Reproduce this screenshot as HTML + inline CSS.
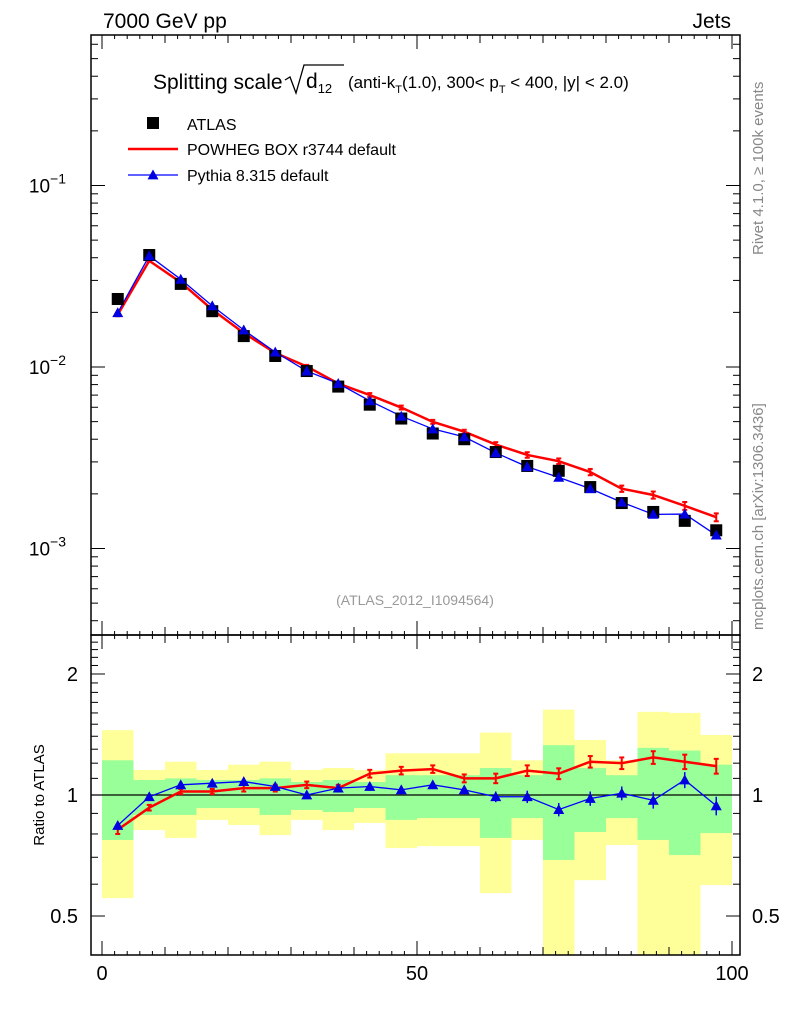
<!DOCTYPE html>
<html><head><meta charset="utf-8"><style>
body{margin:0;background:#fff}
svg{font-family:"Liberation Sans",sans-serif}
</style></head><body>
<svg id="c" width="786" height="1024"></svg>
<script>
const centers=[2.5,7.5,12.5,17.5,22.5,27.5,32.5,37.5,42.5,47.5,52.5,57.5,62.5,67.5,72.5,77.5,82.5,87.5,92.5,97.5];
const atlas=[0.0237,0.0414,0.0287,0.0203,0.0148,0.0115,0.0095,0.0078,0.0062,0.0052,0.0043,0.0040,0.0034,0.00285,0.00268,0.00218,0.00178,0.00159,0.00142,0.00126];
const powhegRatio=[0.82,0.93,1.02,1.02,1.04,1.04,1.06,1.04,1.13,1.15,1.16,1.10,1.10,1.15,1.13,1.21,1.20,1.24,1.21,1.18];
const pythiaRatio=[0.84,0.99,1.06,1.07,1.08,1.05,1.00,1.04,1.05,1.03,1.06,1.03,0.99,0.99,0.92,0.98,1.01,0.97,1.09,0.94];
const yellowHi=[1.45,1.154,1.21,1.154,1.19,1.21,1.154,1.167,1.154,1.27,1.27,1.27,1.43,1.22,1.63,1.37,1.22,1.61,1.6,1.41];
const yellowLo=[0.554,0.818,0.782,0.867,0.842,0.795,0.867,0.818,0.852,0.738,0.746,0.746,0.57,0.773,0.40,0.614,0.751,0.40,0.40,0.597];
const greenHi=[1.22,1.09,1.10,1.09,1.09,1.10,1.077,1.09,1.077,1.12,1.12,1.12,1.167,1.12,1.33,1.167,1.12,1.31,1.29,1.19];
const greenLo=[0.773,0.892,0.892,0.928,0.928,0.892,0.918,0.907,0.928,0.867,0.876,0.876,0.782,0.876,0.689,0.809,0.876,0.773,0.709,0.804];
const ratioErr=[0.02,0.015,0.015,0.015,0.02,0.02,0.02,0.02,0.025,0.025,0.025,0.025,0.03,0.035,0.035,0.04,0.04,0.045,0.05,0.05];

const NS="http://www.w3.org/2000/svg";
const svg=document.getElementById('c');
function el(t,a,p){const e=document.createElementNS(NS,t);for(const k in a)e.setAttribute(k,a[k]);(p||svg).appendChild(e);return e;}
const X=v=>102+v*6.3;
const Ym=v=>367-181.5*Math.log10(v/0.01);
const Yr=v=>795-402*Math.log10(v);
const L=91,R=740,T=35,M=635,B=955;

const bandG=el('g',{});


centers.forEach((c,i)=>{
  const x0=X(c-2.5),x1=X(c+2.5);
  const y1=Math.max(Yr(yellowHi[i]),M),y2=Math.min(Yr(yellowLo[i]),B);
  const r=el('rect',{x:x0,y:y1,width:x1-x0,height:y2-y1,fill:'#ffff99'},bandG);
  
  
  const g1=Yr(greenHi[i]),g2=Math.min(Yr(greenLo[i]),B);
  const r2=el('rect',{x:x0,y:g1,width:x1-x0,height:g2-g1,fill:'#99ff99'},bandG);
  
  
});
el('line',{x1:L,x2:R,y1:Yr(1),y2:Yr(1),stroke:'#000','stroke-width':1.2});

[[T,M],[M,B]].forEach(([a,b],k)=>{
  const f=el('rect',{x:L,y:a,width:R-L,height:b-a,fill:'none',stroke:'#000','stroke-width':1.5});
  
  
});

for(let v=0;v<=100;v+=2){
  const big=v%10==0,maj=v%50==0;
  const len=maj?14:(big?8:4);
  el('line',{x1:X(v),x2:X(v),y1:B,y2:B-len,stroke:'#000'});
  el('line',{x1:X(v),x2:X(v),y1:M,y2:M-len,stroke:'#000'});
  el('line',{x1:X(v),x2:X(v),y1:M,y2:M+len,stroke:'#000'});
  el('line',{x1:X(v),x2:X(v),y1:T,y2:T+len,stroke:'#000'});
  if(maj){const t=el('text',{x:X(v),y:980,'font-size':20,'text-anchor':'middle'});t.textContent=v;
    }
}
for(let e=-4;e<=0;e++)for(let m=1;m<10;m++){
  const v=m*Math.pow(10,e),y=Ym(v);
  if(y<T||y>M)continue;
  const len=m==1?14:7;
  el('line',{x1:L,x2:L+len,y1:y,y2:y,stroke:'#000'});
  el('line',{x1:R,x2:R-len,y1:y,y2:y,stroke:'#000'});
}
[-1,-2,-3].forEach(e=>{
  const t=el('text',{x:66,y:Ym(Math.pow(10,e))+7,'font-size':19,'text-anchor':'end'});
  t.innerHTML='10<tspan dy="-9" font-size="14">\u2212'+(-e)+'</tspan>';
  
});
[0.4,0.5,0.6,0.7,0.8,0.9,1,1.1,1.2,1.3,1.4,1.5,1.6,1.7,1.8,1.9,2,2.1,2.2,2.3,2.4,2.5].forEach(v=>{
  const y=Yr(v);if(y<M||y>B)return;
  const len=(v==0.5||v==1||v==2)?14:7;
  el('line',{x1:L,x2:L+len,y1:y,y2:y,stroke:'#000'});
  el('line',{x1:R,x2:R-len,y1:y,y2:y,stroke:'#000'});
});
[[2,'2'],[1,'1'],[0.5,'0.5']].forEach(([v,s])=>{
  const a=el('text',{x:78,y:Yr(v)+7,'font-size':20,'text-anchor':'end'});a.textContent=s;
  
  const b=el('text',{x:752,y:Yr(v)+7,'font-size':20}); b.textContent=s;
  
});

function poly(pts,color,w,name){const p=el('polyline',{points:pts.map(q=>q.join(',')).join(' '),fill:'none',stroke:color,'stroke-width':w});
  }
function tri(x,y,s,name){const p=el('polygon',{points:`${x},${y-s} ${x-s},${y+s*0.8} ${x+s},${y+s*0.8}`,fill:'#0000e0'});
  }
function ebar(x,a,b,col){
  el('line',{x1:x,x2:x,y1:a,y2:b,stroke:col,'stroke-width':2});
  el('line',{x1:x-2.5,x2:x+2.5,y1:a,y2:a,stroke:col,'stroke-width':2});
  el('line',{x1:x-2.5,x2:x+2.5,y1:b,y2:b,stroke:col,'stroke-width':2});
}
poly(centers.map((c,i)=>[X(c),Ym(atlas[i]*powhegRatio[i])]),'#f00',2.5,'powheg-line');
centers.forEach((c,i)=>{
  const v=atlas[i]*powhegRatio[i];
  ebar(X(c),Ym(v*(1+ratioErr[i])),Ym(v*(1-ratioErr[i])),'#f00');
});
poly(centers.map((c,i)=>[X(c),Ym(atlas[i]*pythiaRatio[i])]),'#00f',1.3,'pythia-line');
centers.forEach((c,i)=>{
  const r=el('rect',{x:X(c)-6,y:Ym(atlas[i])-6,width:12,height:12,fill:'#000'});
  
  tri(X(c),Ym(atlas[i]*pythiaRatio[i]),5.5,'pythia-point');
});
poly(centers.map((c,i)=>[X(c),Yr(powhegRatio[i])]),'#f00',2.5,'powheg-ratio-line');
poly(centers.map((c,i)=>[X(c),Yr(pythiaRatio[i])]),'#00f',1.3,'pythia-ratio-line');
centers.forEach((c,i)=>{
  const x=X(c);
  ebar(x,Yr(powhegRatio[i]+ratioErr[i]),Yr(powhegRatio[i]-ratioErr[i]),'#f00');
  const pa=Yr(pythiaRatio[i]+ratioErr[i]),pb=Yr(pythiaRatio[i]-ratioErr[i]);
  el('line',{x1:x,x2:x,y1:pa,y2:pb,stroke:'#00f','stroke-width':1.5});
  tri(x,Yr(pythiaRatio[i]),5.5,'pythia-ratio-point');
});

function txt(x,y,s,size,attrs,name,html){const t=el('text',Object.assign({x:x,y:y,'font-size':size},attrs||{}));
  if(html)t.innerHTML=s;else t.textContent=s;return t;}
txt(103,28,'7000 GeV pp',21,{},'energy-label');
txt(731,28,'Jets',21,{'text-anchor':'end'},'jets-label');
txt(153,89,'Splitting scale',21,{},'title-main');
el('path',{d:'M285,80 l5,-3 l6,16 l8,-28 h40',fill:'none',stroke:'#000','stroke-width':1.3});
txt(306,88,'d<tspan font-size="13" dy="5">12</tspan>',21,{},'title-d12',true);
txt(348,88,'(anti-k<tspan font-size="11" dy="5">T</tspan><tspan dy="-5">(1.0), 300&lt; p</tspan><tspan font-size="11" dy="5">T</tspan><tspan dy="-5"> &lt; 400, |y| &lt; 2.0)</tspan>',17,{},'title-cuts',true);
const lr=el('rect',{x:147,y:117,width:12,height:12,fill:'#000'});
txt(187,130,'ATLAS',16,{},'legend-atlas');
el('line',{x1:128,x2:178,y1:149,y2:149,stroke:'#f00','stroke-width':2.5});
txt(187,155,'POWHEG BOX r3744 default',16,{},'legend-powheg');
el('line',{x1:128,x2:178,y1:175,y2:175,stroke:'#00f','stroke-width':1.3});
tri(153,175,5.5,'legend-pythia-marker');
txt(187,181,'Pythia 8.315 default',16,{},'legend-pythia');
txt(415,605,'(ATLAS_2012_I1094564)',14,{'text-anchor':'middle',fill:'#999'},'analysis-id');
txt(0,0,'Ratio to ATLAS',15,{transform:'translate(44,795) rotate(-90)','text-anchor':'middle'},'ratio-axis-title');
txt(0,0,'Rivet 4.1.0, \u2265 100k events',15,{transform:'translate(763,255) rotate(-90)',fill:'#888'},'rivet-label');
txt(0,0,'mcplots.cern.ch [arXiv:1306.3436]',15,{transform:'translate(763,630) rotate(-90)',fill:'#888'},'mcplots-label');
</script>
</body></html>
